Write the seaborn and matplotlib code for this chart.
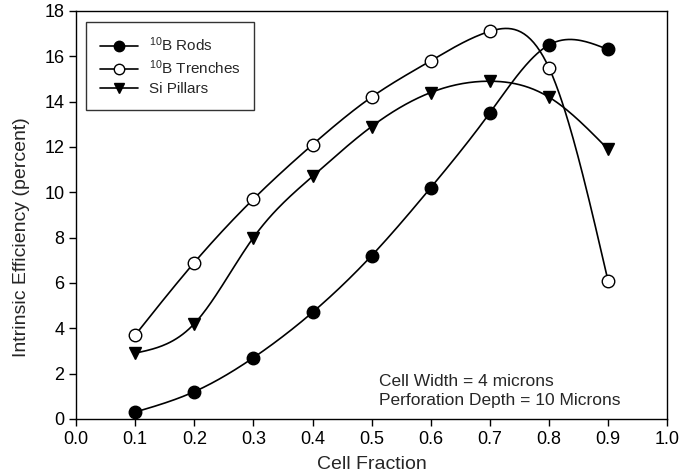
import numpy as np
import pandas as pd
import matplotlib
matplotlib.use("Agg")
import matplotlib.pyplot as plt
import seaborn as sns
from matplotlib.lines import Line2D

cell_fraction = [0.1, 0.2, 0.3, 0.4, 0.5, 0.6, 0.7, 0.8, 0.9]
rods = [0.3, 1.2, 2.7, 4.7, 7.2, 10.2, 13.5, 16.5, 16.3]
trenches = [3.7, 6.9, 9.7, 12.1, 14.2, 15.8, 17.1, 15.5, 6.1]
pillars = [2.9, 4.2, 8.0, 10.7, 12.9, 14.4, 14.9, 14.2, 11.9]
series_names = ["$^{10}$B Rods", "$^{10}$B Trenches", "Si Pillars"]

sns.set_style("ticks")
plt.rcParams['font.family'] = ['Liberation Sans', 'DejaVu Sans']
plt.rcParams['mathtext.fontset'] = 'custom'
plt.rcParams['mathtext.rm'] = 'Liberation Sans'
plt.rcParams['mathtext.it'] = 'Liberation Sans'
plt.rcParams['mathtext.default'] = 'regular'


def natural_spline(x, y, n=300):
    x = np.asarray(x, float); y = np.asarray(y, float)
    k = len(x); h = np.diff(x)
    A = np.zeros((k, k)); b = np.zeros(k)
    A[0, 0] = 1; A[-1, -1] = 1
    for i in range(1, k - 1):
        A[i, i - 1] = h[i - 1]; A[i, i] = 2 * (h[i - 1] + h[i]); A[i, i + 1] = h[i]
        b[i] = 6 * ((y[i + 1] - y[i]) / h[i] - (y[i] - y[i - 1]) / h[i - 1])
    M = np.linalg.solve(A, b)
    xs = np.linspace(x[0], x[-1], n)
    idx = np.clip(np.searchsorted(x, xs) - 1, 0, k - 2)
    x0, x1 = x[idx], x[idx + 1]; hh = x1 - x0
    ys = (M[idx] * (x1 - xs) ** 3 / (6 * hh) + M[idx + 1] * (xs - x0) ** 3 / (6 * hh)
          + (y[idx] / hh - M[idx] * hh / 6) * (x1 - xs)
          + (y[idx + 1] / hh - M[idx + 1] * hh / 6) * (xs - x0))
    return xs, ys


fig = plt.figure(figsize=(6.92, 4.76), dpi=100)
ax = fig.add_axes([0.110, 0.120, 0.854, 0.857])

styles = [
    dict(marker='o', mfc='black', mec='black', ms=9),
    dict(marker='o', mfc='white', mec='black', ms=9),
    dict(marker='v', mfc='black', mec='black', ms=9),
]
handles = []
for vals, name, st in zip([rods, trenches, pillars], series_names, styles):
    xs, ys = natural_spline(cell_fraction, vals)
    sns.lineplot(x=xs, y=ys, ax=ax, color='black', lw=1.2, sort=False)
    ax.plot(cell_fraction, vals, linestyle='none', marker=st['marker'],
            markerfacecolor=st['mfc'], markeredgecolor=st['mec'], markersize=st['ms'],
            markeredgewidth=1.0, zorder=3)
    handles.append(Line2D([0], [0], color='black', lw=1.2, marker=st['marker'],
                          markerfacecolor=st['mfc'], markeredgecolor=st['mec'],
                          markersize=7.5, label=name))

ax.set_xlim(0, 1.0)
ax.set_ylim(0, 18)
ax.set_xticks(np.arange(0, 1.01, 0.1))
ax.set_xticklabels([f"{v:.1f}" for v in np.arange(0, 1.01, 0.1)])
ax.set_yticks(range(0, 19, 2))
ax.tick_params(direction='out', length=5, width=1, labelsize=13, colors='black')
for s in ax.spines.values():
    s.set_linewidth(1.0); s.set_color('black')
ax.set_xlabel("Cell Fraction", fontsize=14, labelpad=6)
ax.set_ylabel("Intrinsic Efficiency (percent)", fontsize=14)
ax.yaxis.set_label_coords(-0.078, 0.446)

leg = ax.legend(handles=handles, loc='upper left', bbox_to_anchor=(0.017, 0.973),
                borderaxespad=0, frameon=True, fancybox=False, edgecolor='black',
                fontsize=11, handlelength=2.5, borderpad=0.9, labelspacing=0.3,
                handletextpad=0.7)
leg.get_frame().set_linewidth(1.0)

ax.text(0.513, 0.027, "Cell Width = 4 microns\nPerforation Depth = 10 Microns",
        transform=ax.transAxes, fontsize=12.5, linespacing=1.35, va='bottom', ha='left')

fig.savefig("out.png", dpi=100)
